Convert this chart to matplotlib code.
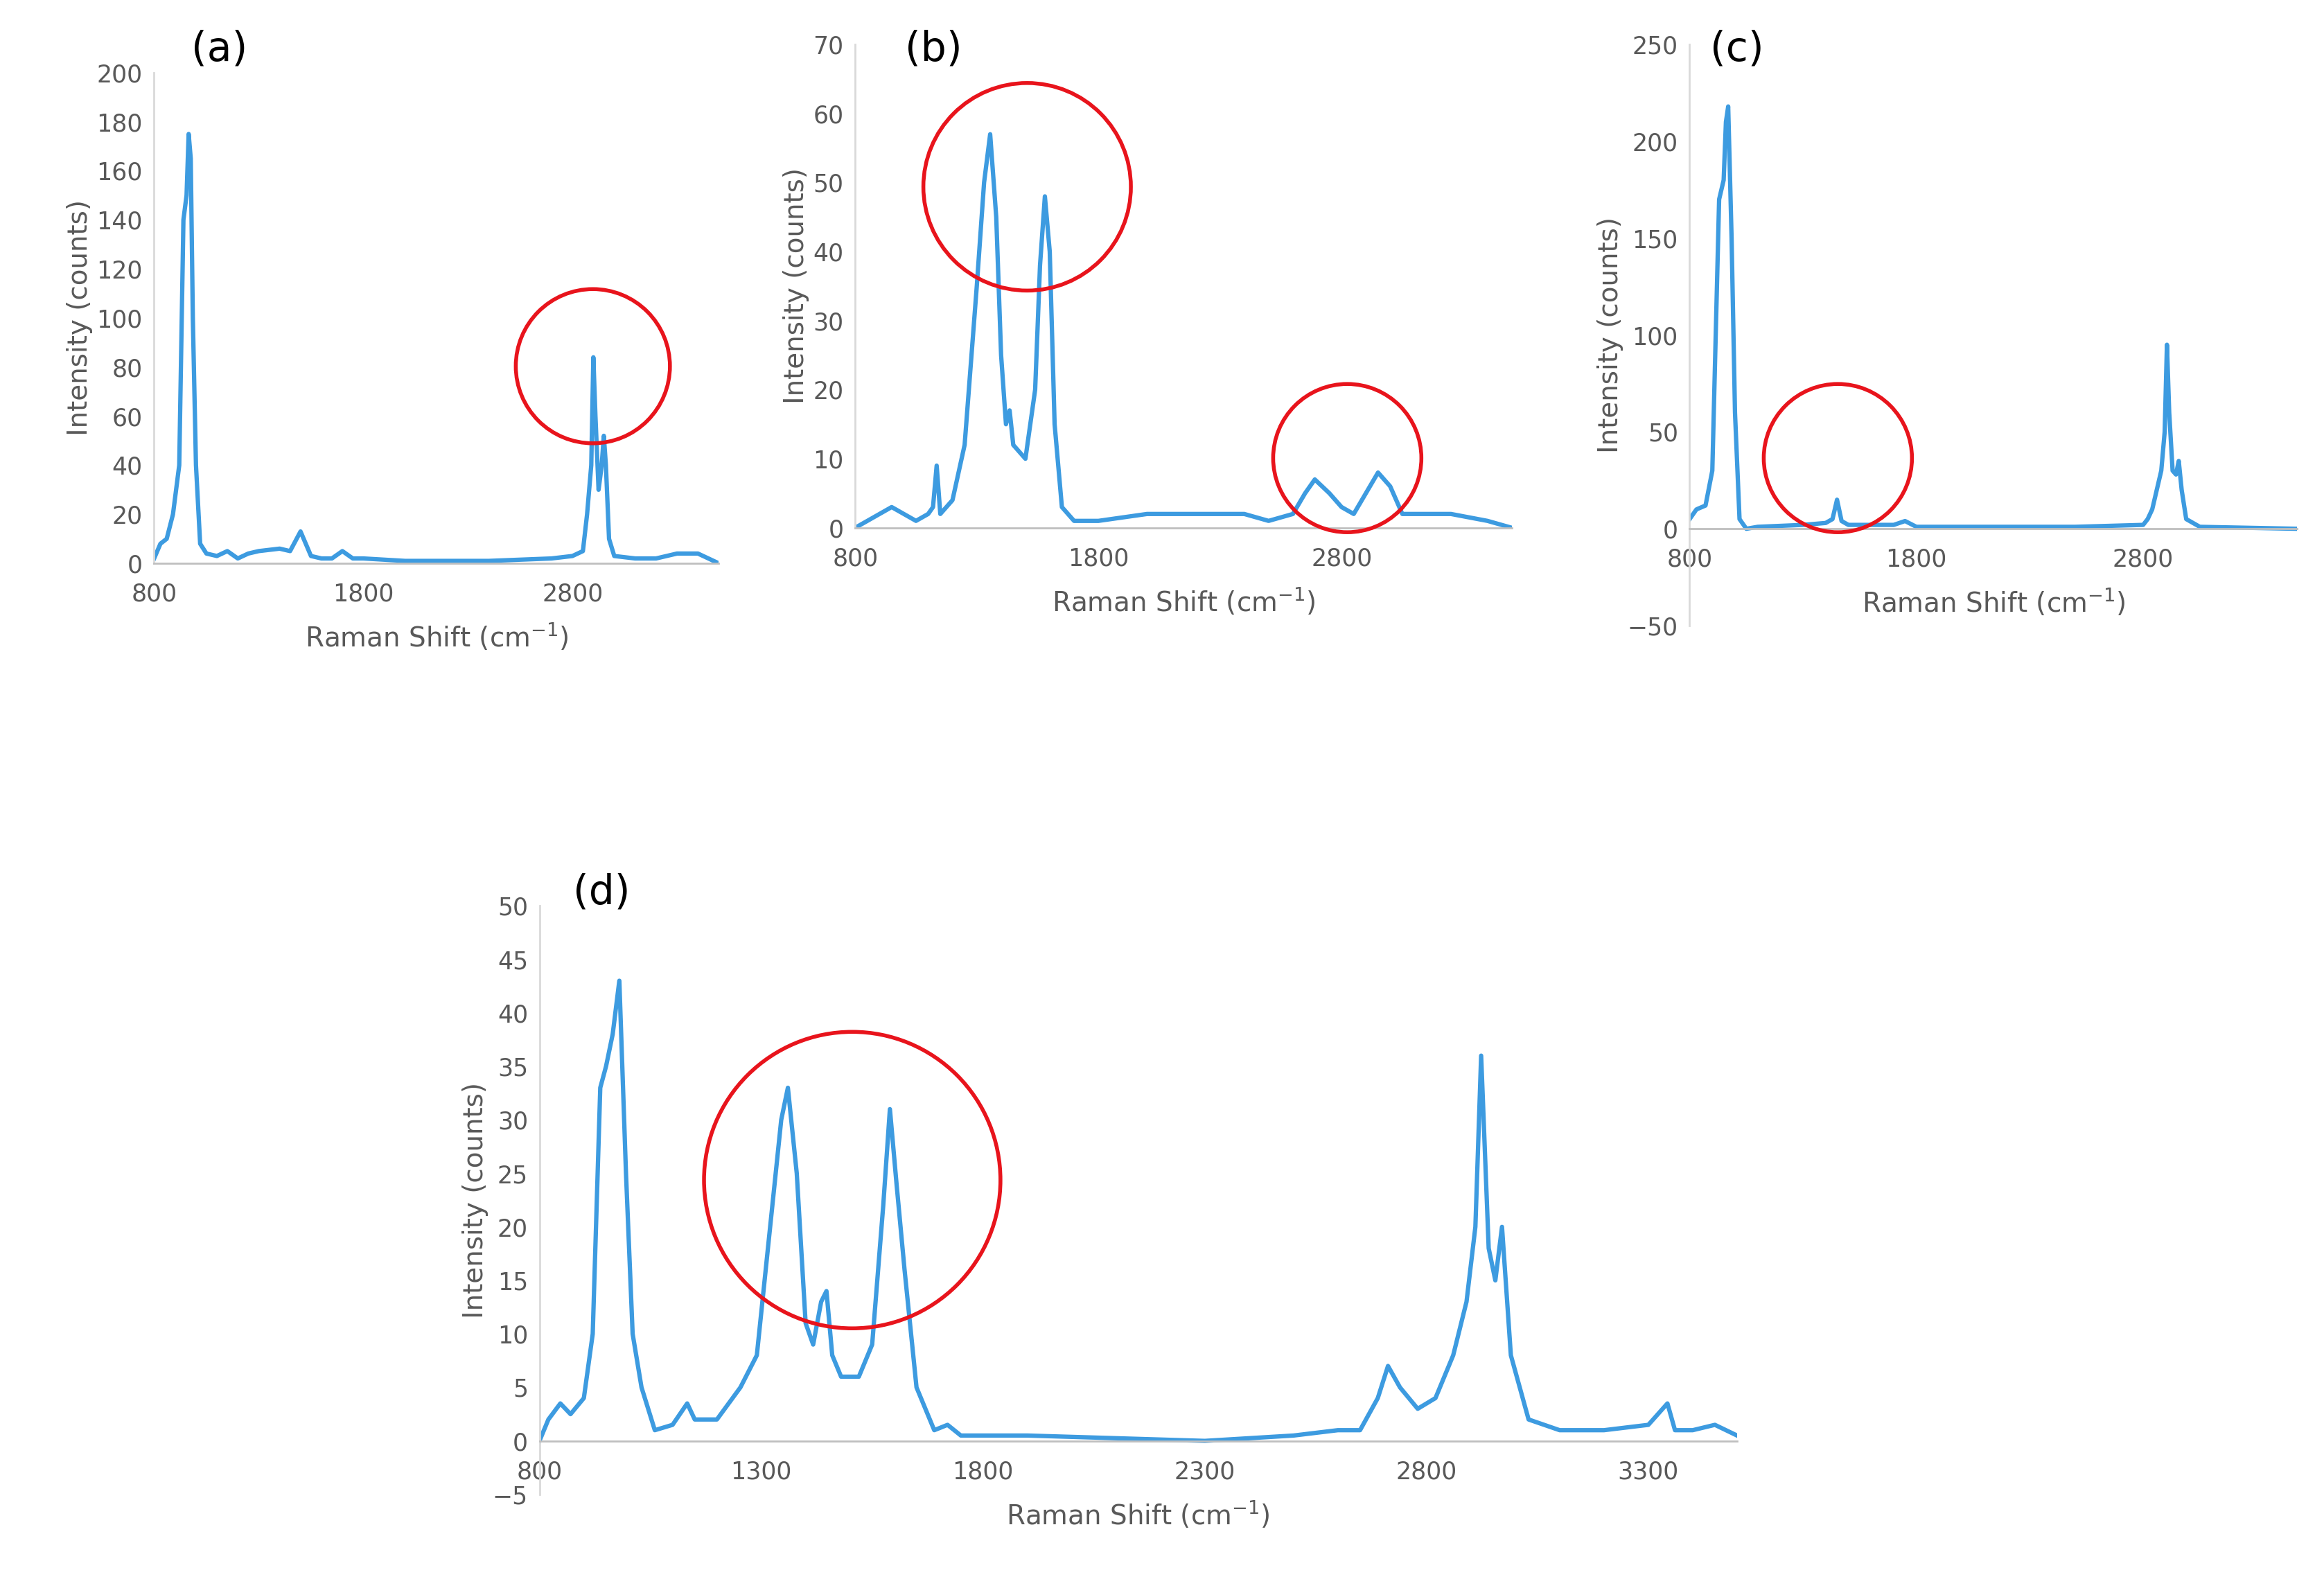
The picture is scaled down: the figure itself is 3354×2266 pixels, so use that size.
import matplotlib
matplotlib.use('Agg')
import matplotlib.pyplot as plt
from matplotlib.patches import Ellipse

# spectra (Raman shift, intensity)
a_x = [800, 830, 860, 890, 920, 940, 955, 965, 975, 985, 1000, 1020, 1050, 1100, 1150, 1200, 1250, 1300,
       1400, 1450, 1500, 1550, 1600, 1650, 1700, 1750, 1800, 2000, 2400, 2700, 2800, 2850, 2870, 2890, 2900,
       2910, 2925, 2940, 2950, 2960, 2975, 3000, 3100, 3200, 3300, 3400, 3500]
a_y = [2, 8, 10, 20, 40, 140, 150, 175, 165, 100, 40, 8, 4, 3, 5, 2, 4, 5, 6, 5, 13, 3, 2, 2, 5, 2, 2, 1, 1,
       2, 3, 5, 20, 40, 84, 60, 30, 40, 52, 40, 10, 3, 2, 2, 4, 4, 0]

b_x = [800, 850, 950, 1000, 1050, 1100, 1120, 1135, 1150, 1200, 1250, 1300, 1330, 1355, 1380, 1400, 1420,
       1435, 1450, 1500, 1540, 1560, 1580, 1600, 1620, 1650, 1700, 1800, 2000, 2200, 2400, 2500, 2600, 2650,
       2690, 2750, 2800, 2850, 2900, 2950, 3000, 3050, 3150, 3250, 3400, 3500]
b_y = [0, 1, 3, 2, 1, 2, 3, 9, 2, 4, 12, 35, 50, 57, 45, 25, 15, 17, 12, 10, 20, 38, 48, 40, 15, 3, 1, 1, 2,
       2, 2, 1, 2, 5, 7, 5, 3, 2, 5, 8, 6, 2, 2, 2, 1, 0]

c_x = [800, 830, 870, 900, 930, 950, 960, 970, 985, 1000, 1020, 1050, 1100, 1300, 1400, 1430, 1450, 1470,
       1500, 1700, 1750, 1800, 2500, 2800, 2820, 2840, 2860, 2880, 2895, 2905, 2915, 2930, 2945, 2957, 2970,
       2990, 3050, 3480]
c_y = [5, 10, 12, 30, 170, 180, 210, 218, 150, 60, 5, 0, 1, 2, 3, 5, 15, 4, 2, 2, 4, 1, 1, 2, 5, 10, 20, 30,
       50, 95, 60, 30, 28, 35, 20, 5, 1, 0]

d_x = [800, 820, 847, 870, 900, 920, 937, 950, 965, 980, 995, 1010, 1030, 1060, 1100, 1133, 1150, 1200, 1253,
       1290, 1320, 1345, 1360, 1380, 1400, 1417, 1435, 1447, 1460, 1480, 1520, 1550, 1575, 1590, 1605, 1623,
       1650, 1690, 1720, 1750, 1900, 2300, 2500, 2600, 2650, 2690, 2713, 2740, 2780, 2820, 2860, 2890, 2910,
       2923, 2940, 2955, 2970, 2990, 3030, 3100, 3200, 3300, 3343, 3360, 3400, 3450, 3500]
d_y = [0, 2, 3.5, 2.5, 4, 10, 33, 35, 38, 43, 25, 10, 5, 1, 1.5, 3.5, 2, 2, 5, 8, 20, 30, 33, 25, 11, 9, 13,
       14, 8, 6, 6, 9, 22, 31, 24, 16, 5, 1, 1.5, 0.5, 0.5, 0, 0.5, 1, 1, 4, 7, 5, 3, 4, 8, 13, 20, 36, 18, 15,
       20, 8, 2, 1, 1, 1.5, 3.5, 1, 1, 1.5, 0.5]

line_color = '#3d9be0'
grey = '#595959'
W, H = 1568., 1059.

fig = plt.figure(figsize=(33.54, 22.66), dpi=100)


def make_panel(rect, xs, ys, xlim, xticks, ylim, yticks, label, label_pos):
    ax = fig.add_axes(rect)
    ax.plot(xs, ys, color=line_color, lw=4.5)
    ax.set_xlim(xlim)
    ax.set_ylim(ylim)
    ax.set_xticks(xticks)
    ax.set_yticks(yticks)
    for s in ['top', 'right']:
        ax.spines[s].set_visible(False)
    ax.spines['left'].set_color('#d9d9d9')
    ax.spines['left'].set_linewidth(2)
    ax.spines['bottom'].set_color('#bfbfbf')
    ax.spines['bottom'].set_linewidth(2)
    ax.spines['bottom'].set_position(('data', 0))
    ax.tick_params(length=0, labelsize=25, labelcolor=grey, pad=12)
    ax.tick_params(axis='x', pad=20)
    ax.set_xlabel('Raman Shift (cm$^{-1}$)', fontsize=28, color=grey, labelpad=16)
    ax.set_ylabel('Intensity (counts)', fontsize=28, color=grey)
    fig.text(label_pos[0] / W, 1 - label_pos[1] / H, label, fontsize=42, ha='center', va='center')
    return ax


make_panel([104 / W, 1 - 380 / H, 381 / W, 331 / H], a_x, a_y, (800, 3500), [800, 1800, 2800],
           (0, 200), range(0, 201, 20), '(a)', (148, 33))
make_panel([577 / W, 1 - 356 / H, 443 / W, 326 / H], b_x, b_y, (800, 3500), [800, 1800, 2800],
           (0, 70), range(0, 71, 10), '(b)', (630, 33))
make_panel([1140 / W, 1 - 422 / H, 410 / W, 392 / H], c_x, c_y, (800, 3480), [800, 1800, 2800],
           (-50, 250), range(-50, 251, 50), '(c)', (1172, 33))
make_panel([364 / W, 1 - 1008 / H, 808 / W, 397 / H], d_x, d_y, (800, 3500),
           [800, 1300, 1800, 2300, 2800, 3300], (-5, 50), range(-5, 51, 5), '(d)', (406, 602))

# red circles, positions in reference pixels
circles = [(400, 247, 52), (693, 126, 70), (909, 309, 50), (1240, 309, 50), (575, 796, 100)]
for cx, cy, r in circles:
    fig.add_artist(Ellipse((cx / W, 1 - cy / H), 2 * r / W, 2 * r / H, transform=fig.transFigure,
                           fill=False, edgecolor='#e8141c', lw=4))

fig.savefig('out.png', dpi=100)
